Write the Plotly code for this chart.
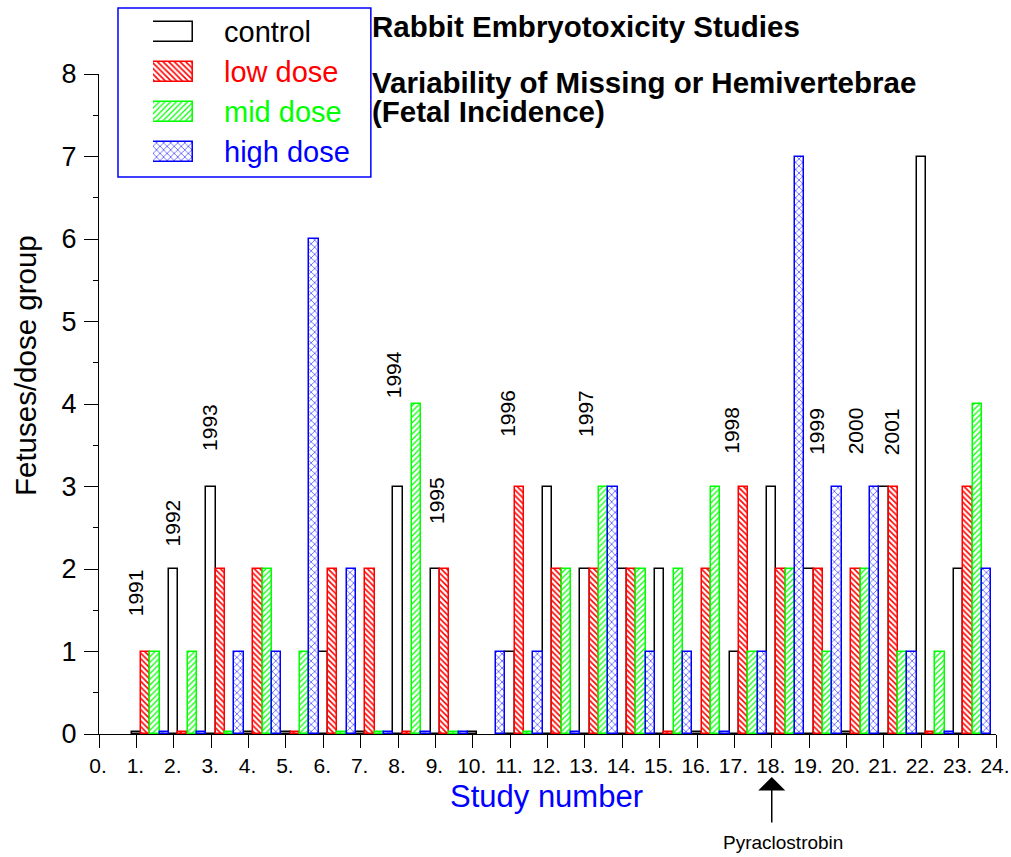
import plotly.graph_objects as go

# ---------------- data ----------------
studies = list(range(1, 24))
control = [0, 2, 3, 0, 0, 1, 0, 3, 2, 0, 1, 3, 2, 2, 2, 0, 1, 3, 2, 0, 3, 7, 2]
low_dose = [1, 0, 2, 2, 0, 2, 2, 0, 2, None, 3, 2, 2, 2, 0, 2, 3, 2, 2, 2, 3, 0, 3]
mid_dose = [1, 1, 0, 2, 1, 0, 0, 4, 0, None, 0, 2, 3, 2, 2, 3, 1, 2, 1, 2, 1, 1, 4]
high_dose = [0, 0, 1, 1, 6, 2, 0, 0, 0, 1, 1, 0, 3, 1, 1, 0, 1, 7, 3, 3, 1, 0, 2]
series_names = ["control", "low dose", "mid dose", "high dose"]
series_values = [control, low_dose, mid_dose, high_dose]

year_labels = ["1991", "1992", "1993", "1994", "1995", "1996", "1997",
               "1998", "1999", "2000", "2001"]
year_label_x = [1.0, 1.97, 2.97, 7.87, 9.03, 10.91, 13.0, 16.92, 19.2, 20.23, 21.19]
year_label_y = [1.71, 2.56, 3.71, 4.35, 2.83, 3.89, 3.89, 3.68, 3.67, 3.67, 3.67]

x_tick_values = list(range(0, 25))
x_tick_labels = [f"{v}." for v in x_tick_values]
y_tick_values = list(range(0, 9))

marker_study = 18
marker_label = "Pyraclostrobin"

title_lines = ["Rabbit Embryotoxicity Studies",
               "Variability of Missing or Hemivertebrae",
               "(Fetal Incidence)"]

# ---------------- styles / layout helpers ----------------
FONT = "Liberation Sans, Arial, Helvetica, sans-serif"
colors = ["#000000", "#ff0000", "#00ff00", "#0000ff"]
patterns = ["", "\\", "/", "x"]
pat_size = [4, 4, 4, 5]
pat_solid = [0.3, 0.4, 0.3, 0.2]
offsets = [0.0, 0.25, 0.5, 0.75]
BAR_W = 0.25
ZERO_STUB = 0.03

W, H = 1011, 857
# plot area in page pixels: x 99..996.5, y 8(top of legend)..734
L = 99
R = W - 996.5
T = 8
B = H - 734
plot_w = W - L - R
plot_h = H - T - B


def px(xp):
    return (xp - L) / plot_w


def py(yp):
    return (H - B - yp) / plot_h


def marker_for(i):
    m = dict(color="white", line=dict(color=colors[i], width=1.5))
    if patterns[i]:
        m["pattern"] = dict(shape=patterns[i], fgcolor=colors[i], bgcolor="white",
                            size=pat_size[i], solidity=pat_solid[i], fillmode="replace")
    return m


fig = go.Figure()

for i, (name, vals) in enumerate(zip(series_names, series_values)):
    xs = [s + offsets[i] for s in studies]
    ys = [None if v is None else max(v, ZERO_STUB) for v in vals]
    fig.add_trace(go.Bar(
        x=xs, y=ys, width=BAR_W, name=name, marker=marker_for(i),
        customdata=vals, hovertemplate=name + ": %{customdata}<extra></extra>",
        showlegend=False, xaxis="x", yaxis="y"))

# custom legend swatches (large, patterned) on a hidden axis pair
for i, name in enumerate(series_names):
    fig.add_trace(go.Bar(
        x=[1], y=[i], orientation="h", width=0.5, marker=marker_for(i),
        showlegend=False, hoverinfo="skip", xaxis="x2", yaxis="y2"))

annotations = []
legend_rows_y = [32, 72, 112, 152]
for i, name in enumerate(series_names):
    annotations.append(dict(
        text=name, x=px(222), y=py(legend_rows_y[i]), xref="paper", yref="paper",
        xanchor="left", yanchor="middle", showarrow=False,
        font=dict(family=FONT, size=29, color=colors[i])))

title_y = [27, 82, 111]
for txt, yy in zip(title_lines, title_y):
    annotations.append(dict(
        text="<b>" + txt + "</b>", x=px(370), y=py(yy), xref="paper", yref="paper",
        xanchor="left", yanchor="middle", showarrow=False,
        font=dict(family=FONT, size=29.5, color="black")))

for lab, xx, yy in zip(year_labels, year_label_x, year_label_y):
    annotations.append(dict(
        text=lab, x=xx, y=yy, xref="x", yref="y", textangle=-90,
        xanchor="center", yanchor="middle", showarrow=False,
        font=dict(family=FONT, size=21, color="black")))

annotations.append(dict(
    text="Fetuses/dose group", x=px(25), y=py(366), xref="paper", yref="paper",
    textangle=-90, xanchor="center", yanchor="middle", showarrow=False,
    font=dict(family=FONT, size=29.5, color="black")))
annotations.append(dict(
    text="Study number", x=px(547), y=py(796), xref="paper", yref="paper",
    xanchor="center", yanchor="middle", showarrow=False,
    font=dict(family=FONT, size=31, color="#0000ff")))

# arrow for Pyraclostrobin
annotations.append(dict(
    text="", x=marker_study, y=py(777), xref="x", yref="paper",
    ax=0, ay=47, showarrow=True, arrowhead=1, arrowsize=3, arrowwidth=1.5,
    arrowcolor="black"))
annotations.append(dict(
    text=marker_label, x=marker_study, xshift=11, y=py(843), xref="x", yref="paper",
    xanchor="center", yanchor="middle", showarrow=False,
    font=dict(family=FONT, size=19, color="black")))

shapes = [dict(type="rect", xref="paper", yref="paper",
               x0=px(118), x1=px(371), y0=py(177), y1=py(8),
               line=dict(color="#0000ff", width=1.5), fillcolor="white", layer="below")]

fig.update_layout(
    template="none",
    width=W, height=H,
    margin=dict(l=L, r=R, t=T, b=B, autoexpand=False),
    paper_bgcolor="white", plot_bgcolor="rgba(0,0,0,0)",
    barmode="overlay", bargap=0,
    showlegend=False,
    font=dict(family=FONT, color="black"),
    xaxis=dict(
        domain=[0, 1], range=[0, 24], tickvals=x_tick_values, ticktext=x_tick_labels,
        ticks="outside", ticklen=13, tickwidth=1.2, tickcolor="black",
        showline=True, linecolor="black", linewidth=1.2, showgrid=False, zeroline=False,
        tickfont=dict(family=FONT, size=21, color="black"), automargin=False,
        ticklabeloverflow="allow", ticklabelshift=-1, anchor="y"),
    yaxis=dict(
        domain=[0, py(74)], range=[0, 8], tickvals=y_tick_values,
        ticks="outside", ticklen=14, tickwidth=1.2, tickcolor="black",
        minor=dict(dtick=0.5, ticks="outside", ticklen=5, tickwidth=1.2, tickcolor="black"),
        showline=True, linecolor="black", linewidth=1.2, showgrid=False, zeroline=False,
        tickfont=dict(family=FONT, size=27, color="black"), automargin=False,
        ticklabelstandoff=2, anchor="x"),
    xaxis2=dict(domain=[px(153), px(193)], range=[0, 1], visible=False,
                anchor="y2", fixedrange=True),
    yaxis2=dict(domain=[py(172), py(12)], range=[3.5, -0.5], visible=False,
                anchor="x2", fixedrange=True),
    annotations=annotations,
    shapes=shapes,
)

# remove the default page margin so the figure fills the window exactly
fig.write_html("out.html",
               config={"displayModeBar": False},
               post_script="document.body.style.margin='0px';"
                           "document.body.style.overflow='hidden';")
